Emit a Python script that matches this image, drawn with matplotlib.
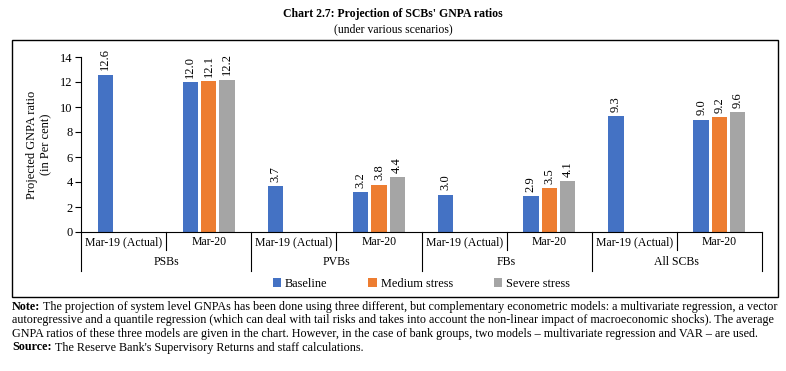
import matplotlib
matplotlib.use("Agg")
import matplotlib.pyplot as plt
import numpy as np
from matplotlib.patches import Patch, Rectangle
from matplotlib.transforms import blended_transform_factory

plt.rcParams["font.family"] = ["Liberation Serif", "DejaVu Serif"]

# ---------- data ----------
groups = ["PSBs", "PVBs", "FBs", "All SCBs"]
periods = ["Mar-19 (Actual)", "Mar-20"]
series_names = ["Baseline", "Medium stress", "Severe stress"]
baseline = [12.6, 12.0, 3.7, 3.2, 3.0, 2.9, 9.3, 9.0]
medium = [np.nan, 12.1, np.nan, 3.8, np.nan, 3.5, np.nan, 9.2]
severe = [np.nan, 12.2, np.nan, 4.4, np.nan, 4.1, np.nan, 9.6]
colors = ["#4472C4", "#ED7D31", "#A5A5A5"]

W, H = 786, 371
fig = plt.figure(figsize=(W / 100, H / 100), dpi=100)

ax_l, ax_r, ax_t, ax_b = 81, 762, 57, 232
ax = fig.add_axes([ax_l / W, 1 - ax_b / H, (ax_r - ax_l) / W, (ax_b - ax_t) / H])

x = np.arange(len(baseline))
width = 0.18
offsets = [-0.215, 0.0, 0.215]
for vals, off, col in zip([baseline, medium, severe], offsets, colors):
    bars = ax.bar(x + off, vals, width=width, color=col)
    for rect, v in zip(bars, vals):
        if np.isnan(v):
            continue
        ax.annotate(f"{v:.1f}", (rect.get_x() + rect.get_width() / 2, v),
                    xytext=(0, 3), textcoords="offset points",
                    ha="center", va="bottom", rotation=90, fontsize=9,
                    annotation_clip=False)

ax.set_xlim(-0.5, len(baseline) - 0.5)
ax.set_ylim(0, 14)
ax.set_yticks(range(0, 15, 2))
ax.tick_params(axis="y", labelsize=9, length=4, width=0.8, pad=2)
ax.tick_params(axis="x", length=0, labelbottom=False)
for s in ["top", "right"]:
    ax.spines[s].set_visible(False)
ax.spines["left"].set_linewidth(0.8)
ax.spines["bottom"].set_linewidth(0.8)
ax.set_ylabel("Projected GNPA ratio\n(in Per cent)", fontsize=9, labelpad=6)

# two-level category axis
axh = ax_b - ax_t
trans = blended_transform_factory(ax.transData, ax.transAxes)
n = len(baseline)
for i in range(n):
    ax.text(i, -10 / axh, periods[i % 2], transform=trans, ha="center", va="center",
            fontsize=8.5)
for g, name in enumerate(groups):
    ax.text(2 * g + 0.5, -30 / axh, name, transform=trans, ha="center", va="center",
            fontsize=8.5)
for e in np.arange(-0.5, n, 1.0):
    long = int(e + 0.5) % 2 == 0
    y1 = -39 / axh if long else -18 / axh
    ax.plot([e, e], [0, y1], transform=trans, color="black", lw=0.8, clip_on=False)

handles = [Patch(facecolor=c, label=l) for c, l in zip(colors, series_names)]
fig.legend(handles=handles, loc="center", bbox_to_anchor=(0.536, 1 - 284 / H), ncol=3,
           frameon=False, fontsize=8.8, handlelength=0.7, handleheight=0.7,
           handletextpad=0.3, columnspacing=3.35)

# outer frame
fig.patches.append(Rectangle((12 / W, 1 - 297 / H), 766 / W, 257 / H, transform=fig.transFigure,
                             fill=False, edgecolor="black", lw=1.0))

fig.text(0.5, 1 - 14 / H, "Chart 2.7: Projection of SCBs' GNPA ratios", ha="center",
         va="center", fontsize=8.5, fontweight="bold")
fig.text(0.5, 1 - 29 / H, "(under various scenarios)", ha="center", va="center", fontsize=8.5)

# notes
note_lines = [
    ("Note:", "The projection of system level GNPAs has been done using three different, but complementary econometric models: a multivariate regression, a vector"),
    ("", "autoregressive and a quantile regression (which can deal with tail risks and takes into account the non-linear impact of macroeconomic shocks). The average"),
    ("", "GNPA ratios of these three models are given in the chart. However, in the case of bank groups, two models \u2013 multivariate regression and VAR \u2013 are used."),
    ("Source:", "The Reserve Bank's Supervisory Returns and staff calculations."),
]
fig.canvas.draw()
renderer = fig.canvas.get_renderer()
right_px = 777
for k, (bold, rest) in enumerate(note_lines):
    y = 1 - (307 + 13.5 * k) / H
    x0 = 12 / W
    if bold:
        t = fig.text(x0, y, bold, ha="left", va="center", fontsize=8.7, fontweight="bold")
        bb = t.get_window_extent(renderer)
        x0 = (bb.x1 + 3) / W
    t = fig.text(x0, y, rest, ha="left", va="center", fontsize=8.7)
    bb = t.get_window_extent(renderer)
    if bb.x1 > right_px:
        t.set_fontsize(8.7 * (right_px - bb.x0) / bb.width)

fig.savefig("out.png", dpi=100)
